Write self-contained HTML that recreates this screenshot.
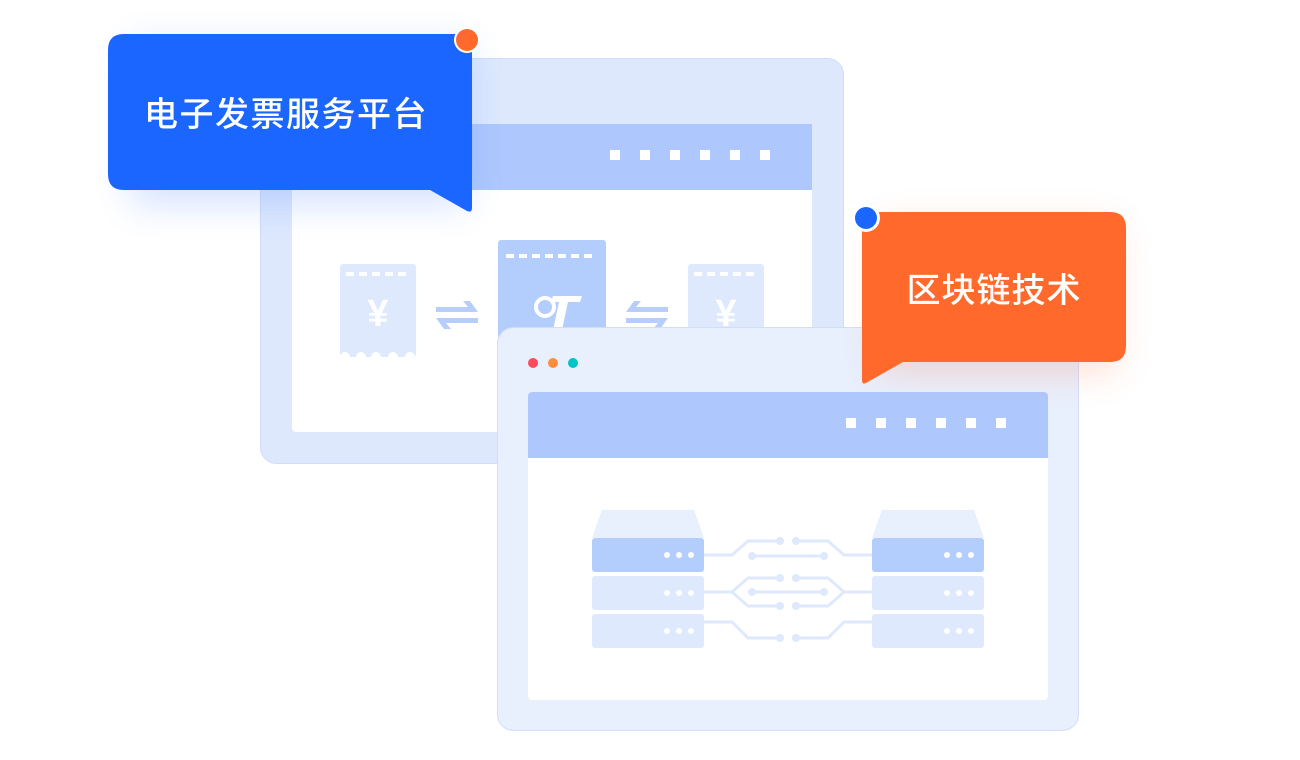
<!DOCTYPE html>
<html><head><meta charset="utf-8"><style>
html,body{margin:0;padding:0;background:#fff;}
svg{display:block;}
text{font-family:"Liberation Sans","Noto Sans CJK SC",sans-serif;}
</style></head><body>
<svg width="1300" height="760" viewBox="0 0 1300 760" xmlns="http://www.w3.org/2000/svg">
<defs>
<filter id="sb" x="-30%" y="-40%" width="160%" height="190%"><feGaussianBlur stdDeviation="18"/></filter>
</defs>
<!-- back window -->
<rect x="260.5" y="58.5" width="583" height="405" rx="16" fill="#dde8fd" stroke="#cfdcfb"/>
<rect x="292" y="124" width="520" height="308" rx="4" fill="#fff"/>
<rect x="292" y="124" width="520" height="66" fill="#aec8fd"/>
<g fill="#fff"><rect x="610" y="150" width="10" height="10"/><rect x="640" y="150" width="10" height="10"/><rect x="670" y="150" width="10" height="10"/><rect x="700" y="150" width="10" height="10"/><rect x="730" y="150" width="10" height="10"/><rect x="760" y="150" width="10" height="10"/></g>
<!-- receipts -->
<rect x="340" y="264" width="76" height="93" rx="3" fill="#dfe9fd"/>
<g fill="#fff"><circle cx="345" cy="357" r="5"/><circle cx="361" cy="357" r="5"/><circle cx="376" cy="357" r="5"/><circle cx="393" cy="357" r="5"/><circle cx="410" cy="357" r="5"/></g>
<g fill="#fff"><rect x="346" y="272" width="8" height="4"/><rect x="359" y="272" width="8" height="4"/><rect x="372" y="272" width="8" height="4"/><rect x="385" y="272" width="8" height="4"/><rect x="398" y="272" width="8" height="4"/></g>
<text x="378" y="326" font-size="38" fill="#fff" text-anchor="middle" font-weight="bold">¥</text>
<rect x="688" y="264" width="76" height="93" rx="3" fill="#dfe9fd"/>
<g fill="#fff"><rect x="694" y="272" width="8" height="4"/><rect x="707" y="272" width="8" height="4"/><rect x="720" y="272" width="8" height="4"/><rect x="733" y="272" width="8" height="4"/><rect x="746" y="272" width="8" height="4"/></g>
<text x="726" y="326" font-size="38" fill="#fff" text-anchor="middle" font-weight="bold">¥</text>
<rect x="498" y="240" width="108" height="100" rx="3" fill="#b3cdfc"/>
<g fill="#fff"><rect x="506" y="254" width="8" height="4"/><rect x="519" y="254" width="8" height="4"/><rect x="532" y="254" width="8" height="4"/><rect x="545" y="254" width="8" height="4"/><rect x="558" y="254" width="8" height="4"/><rect x="571" y="254" width="8" height="4"/><rect x="584" y="254" width="8" height="4"/></g>
<path d="M553 296 L582 296 L580 302 L568 302 L562 330 L553 330 L559 302 L551 302 Z" fill="#fff"/>
<circle cx="545" cy="307" r="9" fill="none" stroke="#fff" stroke-width="4"/>
<!-- arrows -->
<g fill="#b7cefd">
<path d="M436 307 L468 307 L463 301 L470 301 L478 312 L436 312 Z"/>
<path d="M436 318 L478 318 L478 323 L446 323 L451 329 L444 329 Z"/>
<path d="M626 312 L634 301 L641 301 L636 307 L668 307 L668 312 Z"/>
<path d="M626 318 L668 318 L660 329 L653 329 L658 323 L626 323 Z"/>
</g>
<!-- front window -->
<rect x="497.5" y="327.5" width="581" height="403" rx="16" fill="#e8effd" stroke="#d0ddfb"/>
<circle cx="533" cy="363" r="5" fill="#fd4b5b"/><circle cx="553" cy="363" r="5" fill="#fe8c3f"/><circle cx="573" cy="363" r="5" fill="#00c4c6"/>
<rect x="528" y="392" width="520" height="308" rx="4" fill="#fff"/>
<rect x="528" y="392" width="520" height="66" rx="4" fill="#aec8fd"/>
<rect x="528" y="440" width="520" height="18" fill="#aec8fd"/>
<g fill="#fff"><rect x="846" y="418" width="10" height="10"/><rect x="876" y="418" width="10" height="10"/><rect x="906" y="418" width="10" height="10"/><rect x="936" y="418" width="10" height="10"/><rect x="966" y="418" width="10" height="10"/><rect x="996" y="418" width="10" height="10"/></g>
<!-- servers -->
<g>
<path d="M602 510 L694 510 L704 538 L592 538 Z" fill="#e8effd"/>
<rect x="592" y="538" width="112" height="34" rx="3" fill="#b3cdfc"/>
<rect x="592" y="576" width="112" height="34" rx="3" fill="#dfe9fd"/>
<rect x="592" y="614" width="112" height="34" rx="3" fill="#dfe9fd"/>
<path d="M882 510 L974 510 L984 538 L872 538 Z" fill="#e8effd"/>
<rect x="872" y="538" width="112" height="34" rx="3" fill="#b3cdfc"/>
<rect x="872" y="576" width="112" height="34" rx="3" fill="#dfe9fd"/>
<rect x="872" y="614" width="112" height="34" rx="3" fill="#dfe9fd"/>
<g fill="#fff">
<circle cx="667" cy="555" r="3"/><circle cx="679" cy="555" r="3"/><circle cx="691" cy="555" r="3"/>
<circle cx="667" cy="593" r="3"/><circle cx="679" cy="593" r="3"/><circle cx="691" cy="593" r="3"/>
<circle cx="667" cy="631" r="3"/><circle cx="679" cy="631" r="3"/><circle cx="691" cy="631" r="3"/>
<circle cx="947" cy="555" r="3"/><circle cx="959" cy="555" r="3"/><circle cx="971" cy="555" r="3"/>
<circle cx="947" cy="593" r="3"/><circle cx="959" cy="593" r="3"/><circle cx="971" cy="593" r="3"/>
<circle cx="947" cy="631" r="3"/><circle cx="959" cy="631" r="3"/><circle cx="971" cy="631" r="3"/>
</g>
<g fill="none" stroke="#dfe9fd" stroke-width="3">
<path d="M704 555 L732 555 L748 541 L780 541"/><path d="M796 541 L828 541 L844 555 L872 555"/>
<path d="M752 556 L824 556"/>
<path d="M704 592 L732 592 L748 578 L780 578"/><path d="M732 592 L748 606 L780 606"/>
<path d="M796 578 L828 578 L844 592 L872 592"/><path d="M796 606 L828 606 L844 592"/>
<path d="M752 592 L824 592"/>
<path d="M704 622 L732 622 L748 638 L780 638"/><path d="M796 638 L828 638 L844 622 L872 622"/>
</g>
<g fill="#dfe9fd">
<circle cx="780" cy="541" r="4"/><circle cx="796" cy="541" r="4"/><circle cx="752" cy="556" r="4"/><circle cx="824" cy="556" r="4"/>
<circle cx="780" cy="578" r="4"/><circle cx="796" cy="578" r="4"/><circle cx="752" cy="592" r="4"/><circle cx="824" cy="592" r="4"/>
<circle cx="780" cy="606" r="4"/><circle cx="796" cy="606" r="4"/><circle cx="780" cy="638" r="4"/><circle cx="796" cy="638" r="4"/>
</g>
</g>
<!-- blue bubble -->
<path d="M130 44 L468 44 L468 205 L430 205 L130 205 Z" fill="#1a66ff" opacity="0.18" filter="url(#sb)"/>
<path d="M124 34 L472 34 L472 208 Q472 213 467 211 L430 190 L124 190 Q108 190 108 174 L108 50 Q108 34 124 34 Z" fill="#1a66ff"/>
<text x="144" y="126" font-size="34" fill="#fff" font-weight="500" letter-spacing="1.5">电子发票服务平台</text>
<circle cx="467" cy="40" r="13" fill="#fff"/><circle cx="467" cy="40" r="11" fill="#ff6a2c"/>
<!-- orange bubble -->
<path d="M880 225 L1115 225 L1115 372 L880 372 Z" fill="#ff6a2c" opacity="0.22" filter="url(#sb)"/>
<path d="M862 212 L1110 212 Q1126 212 1126 228 L1126 346 Q1126 362 1110 362 L903 362 L866 383 Q862 385 862 380 Z" fill="#ff6a2c"/>
<text x="994" y="302" font-size="34" fill="#fff" font-weight="500" text-anchor="middle" letter-spacing="1">区块链技术</text>
<circle cx="866" cy="218" r="14" fill="#fff"/><circle cx="866" cy="218" r="11" fill="#1a66ff"/>
</svg>
</body></html>
